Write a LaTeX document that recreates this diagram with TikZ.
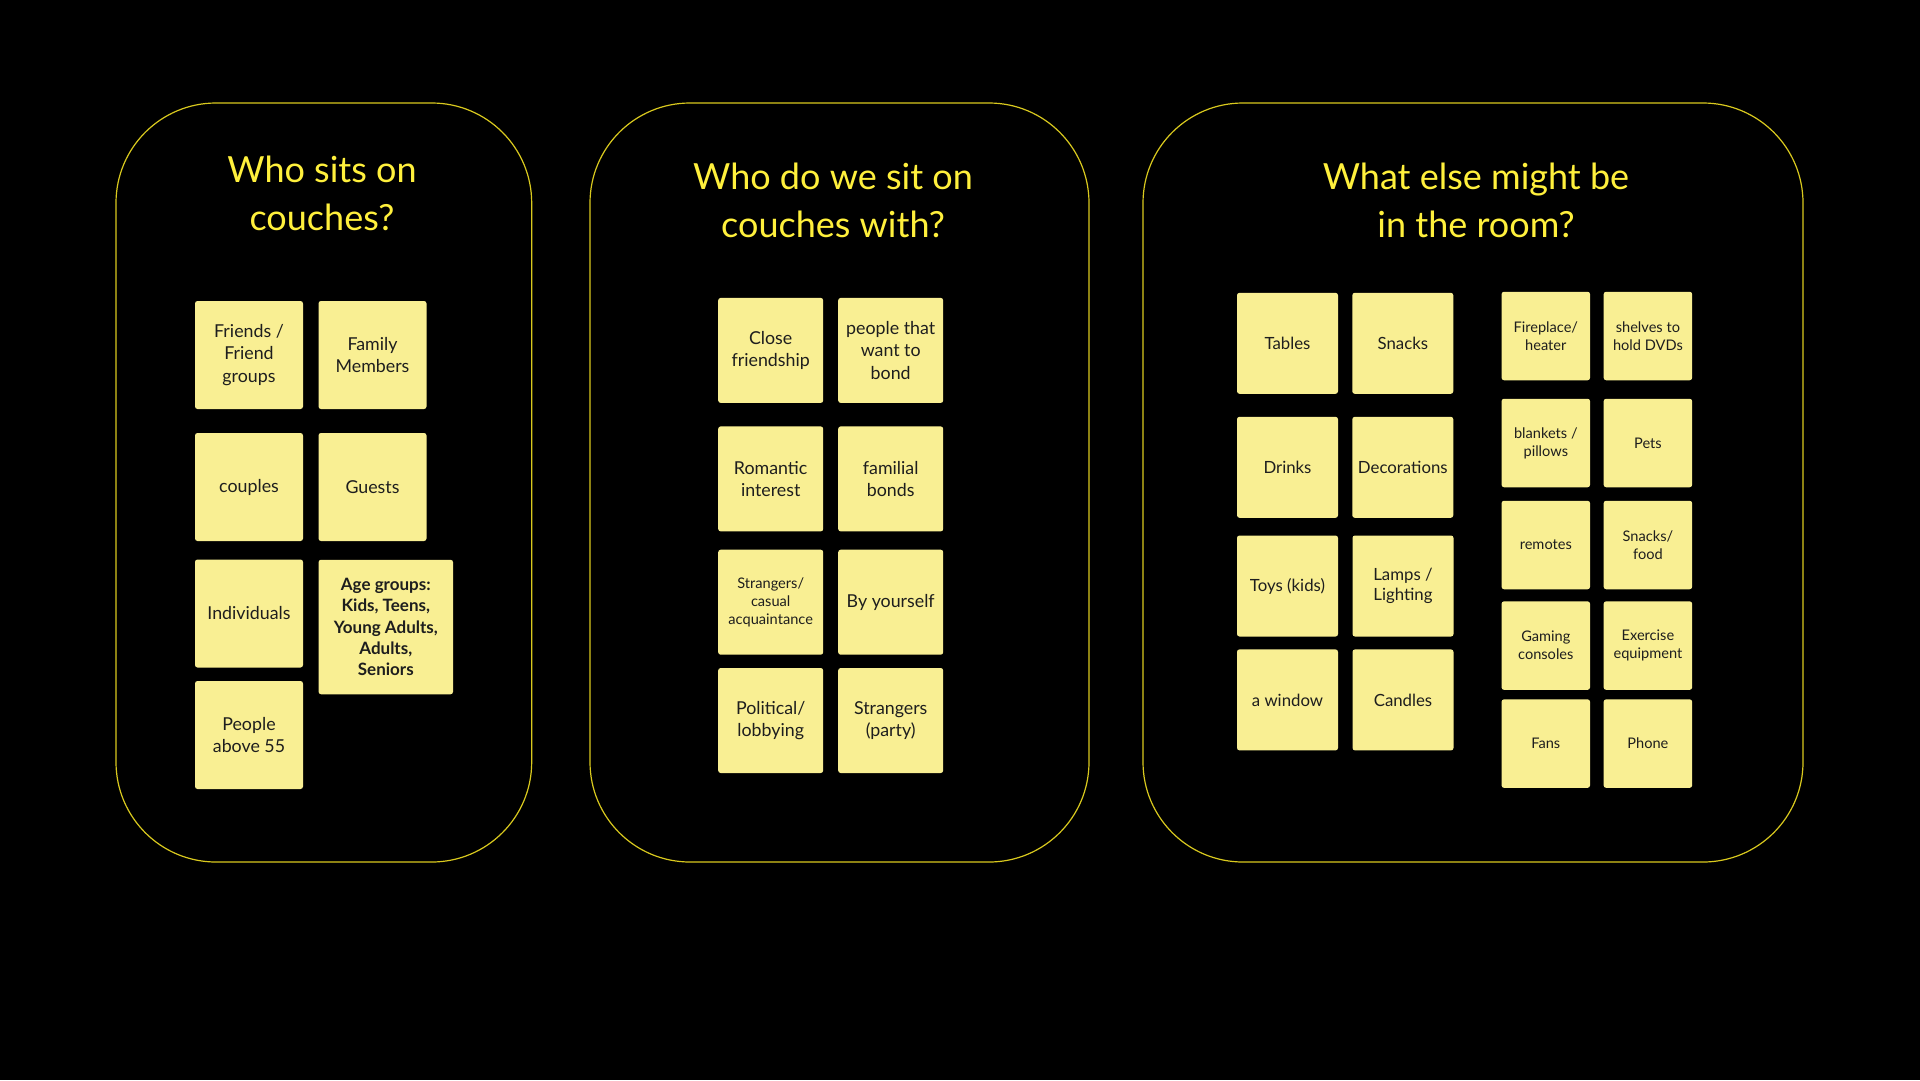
\documentclass[tikz,border=0pt]{standalone}
\usepackage{fontspec}
\setmainfont{Lato}
\definecolor{titleyellow}{HTML}{FFF03C}
\definecolor{frameyellow}{HTML}{D9C91E}
\definecolor{stickyfill}{HTML}{F9EF93}
\definecolor{stickytext}{HTML}{1E1E1E}

\begin{document}
\begin{tikzpicture}[x=1pt,y=-1pt]
  \tikzset{sticky/.style={fill=stickyfill,rounded corners=2.5pt,align=center,
      text=stickytext,inner sep=0pt,minimum size=#1,
      font=\fontsize{17.8}{22.5}\selectfont},
    smalltext/.style={font=\fontsize{14.6}{18.2}\selectfont},
    heading/.style={text=titleyellow,align=center,
      font=\fontsize{36}{48}\selectfont},
    board/.style={draw=frameyellow,line width=1.2pt,rounded corners=100pt}}

  %% Black page, 1 pt for every pixel of the board
  \fill[black] (0,0) rectangle (1920,1080);

  %% The three frames
  \foreach \xa/\xb in {116/531.7, 590/1089, 1143/1803} {%
    \draw[board] (\xa,103) rectangle (\xb,862);
  }

  %% Headings
  \node (whosits)  at (322,193.5)  [heading] {Who sits on\\couches?};
  \node (whowith)  at (833,200.4)  [heading] {Who do we sit on\\couches with?};
  \node (roomelse) at (1476,200.4) [heading] {What else might be\\in the room?};

  %% Who sits on couches
  \node (friends)     at (249,355)     [sticky=108] {Friends /\\Friend\\groups};
  \node (family)      at (372.5,355)   [sticky=108] {Family\\Members};
  \node (couples)     at (249,487)     [sticky=108] {couples};
  \node (guests)      at (372.5,487)   [sticky=108] {Guests};
  \node (individuals) at (249,613.5)   [sticky=108] {Individuals};
  \node (agegroups)   at (385.8,627)   [sticky=134.5,
    font=\fontsize{17}{21.3}\selectfont\bfseries]
    {Age groups:\\Kids, Teens,\\Young Adults,\\Adults,\\Seniors};
  \node (above55)     at (249,735)     [sticky=108] {People\\above 55};

  %% Who do we sit on couches with
  \node (close)     at (770.7,350.4) [sticky=105] {Close\\friendship};
  \node (bond)      at (890.7,350.4) [sticky=105] {people that\\want to\\bond};
  \node (romantic)  at (770.7,478.9) [sticky=105] {Romantic\\interest};
  \node (familial)  at (890.7,478.9) [sticky=105] {familial\\bonds};
  \node (casual)    at (770.7,602.2) [sticky=105,smalltext]
    {Strangers/\\casual\\acquaintance};
  \node (yourself)  at (890.7,602.2) [sticky=105] {By yourself};
  \node (political) at (770.7,720.5) [sticky=105] {Political/\\lobbying};
  \node (party)     at (890.7,720.5) [sticky=105] {Strangers\\(party)};

  %% What else might be in the room, first block
  \tikzset{roomtext/.style={font=\fontsize{16.8}{20.6}\selectfont}}
  \node (tables)      at (1287.5,343.3) [sticky=101,roomtext] {Tables};
  \node (snacks)      at (1402.8,343.3) [sticky=101,roomtext] {Snacks};
  \node (drinks)      at (1287.5,467.3) [sticky=101,roomtext] {Drinks};
  \node (decorations) at (1402.8,467.3) [sticky=101,roomtext] {Decorations};
  \node (toys)        at (1287.5,586)   [sticky=101,roomtext] {Toys (kids)};
  \node (lamps)       at (1403,586)     [sticky=101,roomtext] {Lamps /\\Lighting};
  \node (window)      at (1287.5,699.9) [sticky=101,roomtext] {a window};
  \node (candles)     at (1403,699.9)   [sticky=101,roomtext] {Candles};

  %% second block, smaller notes
  \node (fireplace) at (1545.8,336)   [sticky=88.5,smalltext] {Fireplace/\\heater};
  \node (shelves)   at (1647.9,336)   [sticky=88.5,smalltext] {shelves to\\hold DVDs};
  \node (blankets)  at (1545.8,443)   [sticky=88.5,smalltext] {blankets /\\pillows};
  \node (pets)      at (1647.9,443)   [sticky=88.5,smalltext] {Pets};
  \node (remotes)   at (1545.8,545)   [sticky=88.5,smalltext] {remotes};
  \node (snackfood) at (1647.9,545)   [sticky=88.5,smalltext] {Snacks/\\food};
  \node (gaming)    at (1545.8,645.6) [sticky=88.5,smalltext] {Gaming\\consoles};
  \node (exercise)  at (1647.9,645.6) [sticky=88.5,smalltext] {Exercise\\equipment};
  \node (fans)      at (1545.8,743.6) [sticky=88.5,smalltext] {Fans};
  \node (phone)     at (1647.9,743.6) [sticky=88.5,smalltext] {Phone};

\end{tikzpicture}
\end{document}
